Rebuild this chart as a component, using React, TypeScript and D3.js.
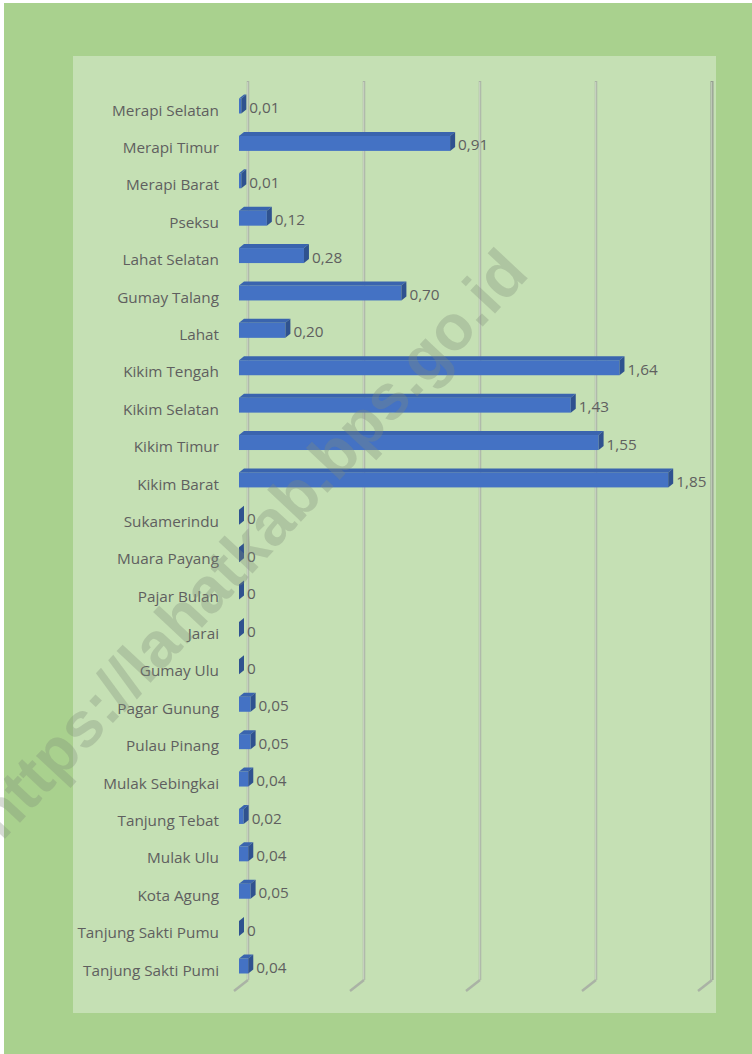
import React from "react";
import * as d3 from "d3";

const categories = [
  "Merapi Selatan", "Merapi Timur", "Merapi Barat", "Pseksu", "Lahat Selatan",
  "Gumay Talang", "Lahat", "Kikim Tengah", "Kikim Selatan", "Kikim Timur",
  "Kikim Barat", "Sukamerindu", "Muara Payang", "Pajar Bulan", "Jarai",
  "Gumay Ulu", "Pagar Gunung", "Pulau Pinang", "Mulak Sebingkai", "Tanjung Tebat",
  "Mulak Ulu", "Kota Agung", "Tanjung Sakti Pumu", "Tanjung Sakti Pumi",
];
const values = [
  0.01, 0.91, 0.01, 0.12, 0.28,
  0.70, 0.20, 1.64, 1.43, 1.55,
  1.85, 0, 0, 0, 0,
  0, 0.05, 0.05, 0.04, 0.02,
  0.04, 0.05, 0, 0.04,
];
const ticks = [0, 0.5, 1, 1.5, 2];

const W = 752;
const H = 1054;
const FONT = "'Open Sans', Lato, sans-serif";

export default function App() {
  const x = d3.scaleLinear().domain([0, 2]).range([239, 703]);
  const y = d3.scalePoint<string>().domain(categories).range([110, 970]);
  const backDX = 9;
  const dx = 5;
  const dy = -4;
  const barH = 15;
  const gridTop = 81;
  const gridBottom = 980;
  const fmt = (v: number) => (v === 0 ? "0" : d3.format(".2f")(v).replace(".", ","));

  return (
    <div style={{ position: "absolute", left: 0, top: 0, width: W, height: H }}>
      <svg width={W} height={H} style={{ display: "block" }}>
        <rect x={0} y={0} width={W} height={H} fill="#ffffff" />
        <rect x={4} y={3} width={W - 4} height={H - 3} fill="#A9D18E" />
        <rect x={73} y={56} width={643} height={957} fill="#C5E0B4" />

        {/* gridlines (back wall) */}
        {ticks.map((t, i) => {
          const bx = x(t) + backDX;
          const last = i === ticks.length - 1;
          return (
            <g key={t}>
              <line x1={bx} x2={bx} y1={gridTop} y2={gridBottom} stroke={last ? "#949e90" : "#aab3a5"} strokeWidth={last ? 3 : 2.5} />
              <line x1={bx - 0.3} x2={bx - 0.3} y1={gridTop + 1} y2={gridBottom} stroke="#d3dfcb" strokeWidth={0.8} />
              <line x1={bx} y1={gridBottom} x2={bx - 14} y2={gridBottom + 11} stroke="#aab3a5" strokeWidth={2.5} />
            </g>
          );
        })}

        {/* bars */}
        {categories.map((c, i) => {
          const v = values[i];
          const cy = y(c)!;
          const x0 = x(0);
          const x1 = x(v);
          const top = cy - 11.5;
          const bottom = top + barH;
          const topFace = `M${x0},${top} L${x0 + dx},${top + dy} L${x1 + dx},${top + dy} L${x1},${top} Z`;
          const sideFace = `M${x1},${top} L${x1 + dx},${top + dy} L${x1 + dx},${bottom + dy} L${x1},${bottom} Z`;
          return (
            <g key={c}>
              {x1 - x0 > 0.5 && <rect x={x0} y={top} width={x1 - x0} height={barH} fill="#4472C4" />}
              {x1 - x0 > 0.5 && <path d={topFace} fill="#3A64AE" />}
              <path d={sideFace} fill="#2F528F" />
              <text x={x1 + dx + 3} y={cy - 1} dominantBaseline="middle" fontFamily={FONT} fontSize={15.3} fill="#5f5f5f">
                {fmt(v)}
              </text>
            </g>
          );
        })}

        {/* category labels */}
        {categories.map((c) => (
          <text key={c} x={219} y={y(c)! + 1.5} textAnchor="end" dominantBaseline="middle" fontFamily={FONT} fontSize={15.3} fill="#5f5f5f">
            {c}
          </text>
        ))}

        {/* watermark */}
        <text
          x={254}
          y={547}
          textAnchor="middle"
          dominantBaseline="middle"
          transform="rotate(-47 254 547)"
          fontFamily="'Liberation Sans', Arial, sans-serif"
          fontWeight="bold"
          fontSize={64}
          fill="#7f8c7a"
          fillOpacity={0.32}
        >
          https://lahatkab.bps.go.id
        </text>
      </svg>
    </div>
  );
}
